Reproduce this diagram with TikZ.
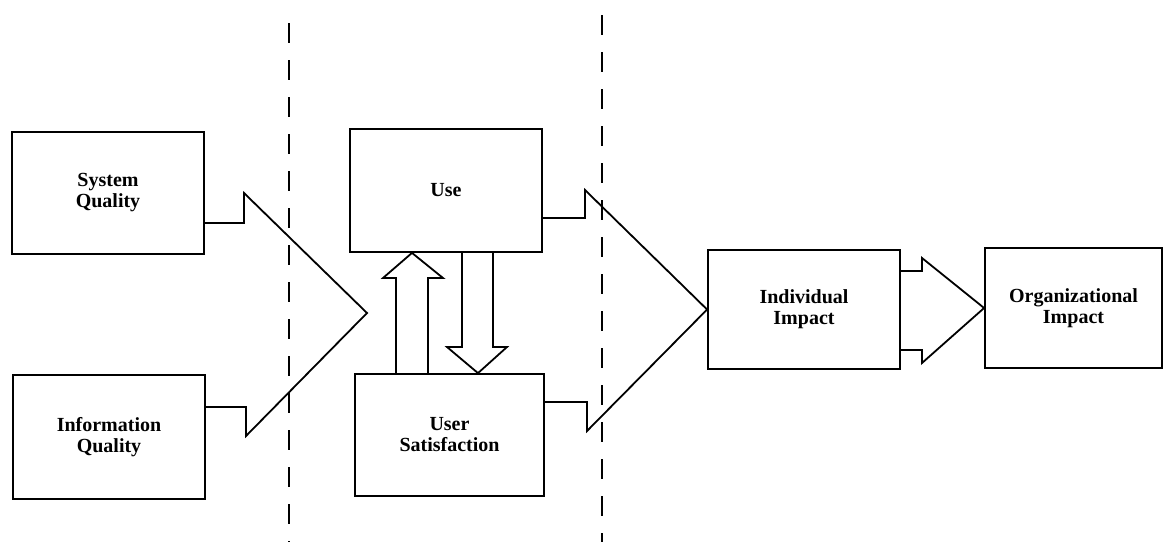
\documentclass[tikz,border=0pt]{standalone}
\usepackage{fontspec}
\setmainfont{Liberation Serif}
\begin{document}
\begin{tikzpicture}[x=1pt, y=-1pt, line join=miter, line width=1.8pt,
		blk/.style={draw, align=center, inner sep=0pt, font=\bfseries\fontsize{20}{21}\selectfont},
		sep/.style={line width=1.4pt, dash pattern=on 20pt off 17pt}]
			\useasboundingbox (0,0) rectangle (1163,542);
			\node[blk, minimum width=192pt, minimum height=122pt] (sq) at (108,193) {System\\Quality};
			\node[blk, minimum width=192pt, minimum height=124pt] (iq) at (109,437) {Information\\Quality};
			\node[blk, minimum width=192pt, minimum height=123pt] (use) at (446,190.5) {Use};
			\node[blk, minimum width=189pt, minimum height=122pt] (us) at (449.5,435) {User\\Satisfaction};
			\node[blk, minimum width=192pt, minimum height=119pt] (ii) at (804,309.5) {Individual\\Impact};
			\node[blk, minimum width=177pt, minimum height=120pt] (oi) at (1073.5,308) {Organizational\\Impact};
			% Trennlinien
			\draw[sep] (289,23) -- (289,542);
			\draw[sep] (602,15) -- (602,542);
			% Pfeil 1
			\coordinate (p1) at (244,223);
			\coordinate (p2) at (244,193);
			\coordinate (p3) at (246,436);
			\coordinate (p4) at (246,407);
			\draw (sq.east |- p1) -- (p1) -- (p2) -- (367,313) -- (p3) -- (p4) -- (iq.east |- p4);
			% Pfeil 2
			\coordinate (q1) at (585,218);
			\coordinate (q2) at (585,190);
			\coordinate (q3) at (587,431);
			\coordinate (q4) at (587,402);
			\draw (use.east |- q1) -- (q1) -- (q2) -- (ii.west) -- (q3) -- (q4) -- (us.east |- q4);
			% Pfeil 3
			\coordinate (r1) at (922,271);
			\coordinate (r2) at (922,258);
			\coordinate (r3) at (922,363);
			\coordinate (r4) at (922,350);
			\draw (ii.east |- r1) -- (r1) -- (r2) -- (oi.west) -- (r3) -- (r4) -- (ii.east |- r4);
			% Use <-> User Satisfaction
			\coordinate (u1) at (396,278);
			\coordinate (u2) at (428,278);
			\draw (us.north -| u1) -- (u1) -- (383,278) -- (use.south -| 412,0) -- (443,278) -- (u2) -- (us.north -| u2);
			\coordinate (d1) at (462,347);
			\coordinate (d2) at (493,347);
			\draw (use.south -| d1) -- (d1) -- (447,347) -- (us.north -| 478,0) -- (507,347) -- (d2) -- (use.south -| d2);
		\end{tikzpicture}
\end{document}
